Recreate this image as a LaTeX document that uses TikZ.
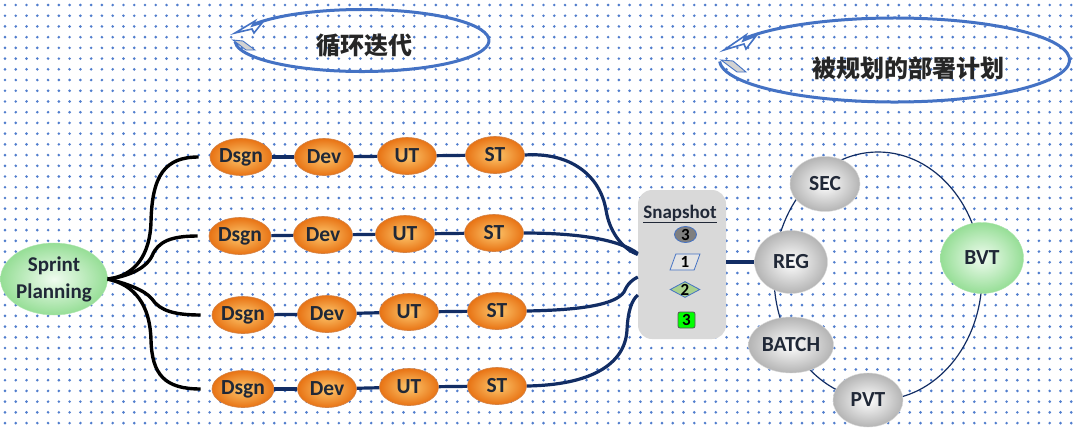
\documentclass[tikz,border=0pt]{standalone}
\usepackage{fontspec}
\setmainfont{Carlito}
\newfontfamily\cjk{Noto Sans CJK SC}
\usetikzlibrary{shapes.geometric,arrows.meta,calc}
\definecolor{navy}{RGB}{18,45,100}
\definecolor{dotblue}{RGB}{80,125,205}
\definecolor{tblue}{RGB}{68,114,196}
\definecolor{txt}{RGB}{32,40,55}
\definecolor{orin}{RGB}{253,200,110}
\definecolor{orout}{RGB}{232,115,20}
\definecolor{orrim}{RGB}{210,130,70}
\definecolor{grout}{RGB}{180,180,180}
\definecolor{gnin}{RGB}{240,252,240}
\definecolor{gnout}{RGB}{150,222,150}
\definecolor{snapgray}{RGB}{217,217,217}
\begin{document}
\begin{tikzpicture}[x=1pt,y=-1pt,
  lbl/.style={font=\bfseries\fontsize{21.5}{24}\selectfont, text=txt},
  orangebox/.style={lbl, ellipse, minimum width=59pt, minimum height=37pt, inner sep=0pt,
    inner color=orin, outer color=orout, draw=orrim, line width=0.6pt},
  graybox/.style={lbl, ellipse, inner sep=0pt, inner color=white, outer color=grout, draw=gray!30, line width=0.4pt},
  greenbox/.style={lbl, ellipse, inner sep=0pt, inner color=gnin, outer color=gnout, draw=gnout!80!white, line width=0.4pt},
  navyline/.style={draw=navy, line width=3.2pt},
  blkline/.style={draw=black, line width=3.4pt, shorten >=11pt},
  ringline/.style={draw=navy, line width=1.2pt},
  titlearc/.style={draw=tblue, line width=3pt},
  snapitem/.style={font=\bfseries\fontsize{17}{18}\selectfont, text=black, inner sep=0pt, draw=tblue, line width=0.8pt}
]
\useasboundingbox (0,0) rectangle (1076,429);
\fill[white] (0,0) rectangle (1076,429);
% dotted background
\foreach \i in {0,...,99}{\foreach \j in {0,...,39}{
  \fill[dotblue] ({5+10.77*\i},{5+10.72*\j}) circle[radius=1.45pt];}}

% title arcs
\draw[titlearc] (252,25) arc[start angle=150, end angle=-178, x radius=127pt, y radius=31pt];
\filldraw[fill=white, draw=tblue, line width=1.6pt, line join=miter] (235,33) -- (255,21) -- (252,26) -- (262,23) -- (254,33) -- (252,29) -- cycle;
\filldraw[fill=gray!35, draw=tblue, line width=0.9pt] (233,40) -- (243,41) -- (255,50) -- (246,50) -- cycle;
\node[font=\cjk\bfseries\fontsize{24}{28}\selectfont, text={rgb,255:red,38;green,38;blue,38}] (t1) at (364,46) {循环迭代};

\draw[titlearc] (743,39) arc[start angle=150, end angle=-178, x radius=175pt, y radius=42pt];
\filldraw[fill=white, draw=tblue, line width=1.6pt, line join=miter] (724,50) -- (746,35) -- (743,41) -- (756,36) -- (746,49) -- (744,44) -- cycle;
\filldraw[fill=gray!35, draw=tblue, line width=0.9pt] (721,60) -- (733,61) -- (746,72) -- (737,72) -- cycle;
\node[font=\cjk\bfseries\fontsize{24}{28}\selectfont, text={rgb,255:red,38;green,38;blue,38}] (t2) at (908,68) {被规划的部署计划};

% ring
\draw[ringline] (878,276) ellipse[x radius=104pt, y radius=124pt];

% sprint planning
\node[greenbox, minimum width=98pt, minimum height=72pt, align=center, font=\bfseries\fontsize{21}{27}\selectfont] (sp) at (54,279) {Sprint\\Planning};

% rows
\node[orangebox] (d1) at (241,157) {Dsgn};
\node[orangebox] (v1) at (324,157) {Dev};
\node[orangebox] (u1) at (407,156) {UT};
\node[orangebox] (s1) at (495,155) {ST};
\node[orangebox] (d2) at (240,236) {Dsgn};
\node[orangebox] (v2) at (323,235) {Dev};
\node[orangebox] (u2) at (405,234) {UT};
\node[orangebox] (s2) at (494,233) {ST};
\node[orangebox] (d3) at (243,315) {Dsgn};
\node[orangebox] (v3) at (327,314) {Dev};
\node[orangebox] (u3) at (409,312) {UT};
\node[orangebox] (s3) at (497,311) {ST};
\node[orangebox] (d4) at (243,389) {Dsgn};
\node[orangebox] (v4) at (327,389) {Dev};
\node[orangebox] (u4) at (409,387) {UT};
\node[orangebox] (s4) at (497,386) {ST};

\foreach \r in {1,2,3,4}{
  \draw[navyline] (d\r) -- (v\r);
  \draw[navyline] (v\r) -- (u\r);
  \draw[navyline] (u\r) -- (s\r);
}

% black fan
\draw[blkline] (sp.east) .. controls (135,276) and (150,255) .. (151,222) .. controls (152,175) and (165,157) .. (d1.west);
\draw[blkline] (sp.east) .. controls (125,277) and (145,270) .. (152,256) .. controls (158,241) and (172,236) .. (d2.west);
\draw[blkline] (sp.east) .. controls (125,283) and (145,290) .. (152,299) .. controls (160,311) and (175,315) .. (d3.west);
\draw[blkline] (sp.east) .. controls (135,285) and (150,305) .. (151,340) .. controls (152,375) and (165,389) .. (d4.west);

% snapshot box
\node[fill=snapgray, rounded corners=14pt, minimum width=88pt, minimum height=149pt, inner sep=0pt] (snap) at (682,264.5) {};
\node[font=\bfseries\fontsize{19}{20}\selectfont, text=txt] (snapt) at (680,214) {\underline{Snapshot}};
\node[snapitem, ellipse, fill={rgb,255:red,127;green,127;blue,127}, minimum width=22pt, minimum height=16pt] (sn1) at (685.5,234.5) {3};
\node[snapitem, trapezium, trapezium left angle=70, trapezium right angle=110, fill=snapgray!70!white, minimum width=18pt, minimum height=16pt, inner xsep=2pt] (sn2) at (685,262) {1};
\node[snapitem, diamond, aspect=1.9, fill={rgb,255:red,169;green,209;blue,142}, minimum width=29pt, minimum height=16pt] (sn3) at (685,289.5) {2};
\node[snapitem, rectangle, rounded corners=2pt, draw=gray!70!black, fill={rgb,255:red,0;green,255;blue,0}, minimum width=17pt, minimum height=16pt] (sn4) at (686.5,320) {3};

% ST -> snapshot
\draw[navyline] (s1.east) .. controls (570,152) and (600,175) .. (606,210) .. controls (610,235) and (625,250) .. ([yshift=10pt]snap.west);
\draw[navyline] (s2.east) .. controls (580,233) and (620,240) .. ([yshift=11pt]snap.west);
\draw[navyline] (s3.east) .. controls (580,310) and (615,305) .. (624,292) .. controls (628,283) and (632,280) .. ([yshift=-12.5pt]snap.west);
\draw[navyline] (s4.east) .. controls (590,385) and (625,365) .. (627,330) .. controls (628,310) and (632,300) .. ([yshift=-30.5pt]snap.west);

% ring nodes
\node[graybox, minimum width=70pt, minimum height=55pt] (sec) at (825,184) {SEC};
\node[graybox, minimum width=73pt, minimum height=63pt] (reg) at (791,262) {REG};
\node[graybox, minimum width=85pt, minimum height=56pt] (batch) at (791,345) {BATCH};
\node[graybox, minimum width=70pt, minimum height=54pt] (pvt) at (868,400) {PVT};
\node[greenbox, minimum width=83pt, minimum height=71pt] (bvt) at (982,258) {BVT};

\draw[navyline] (snap.east |- reg.west) -- (reg.west);
\end{tikzpicture}
\end{document}
